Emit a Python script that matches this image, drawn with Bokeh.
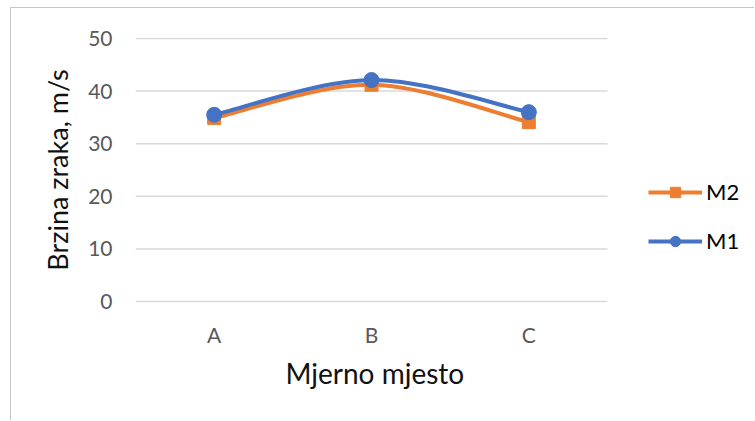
import numpy as np
from bokeh.plotting import figure
from bokeh.models import FixedTicker, Legend, LegendItem, ColumnDataSource, Range1d, Title
from bokeh.embed import file_html
from bokeh.resources import INLINE

categories = ["A", "B", "C"]
m1 = [35.5, 42.1, 36.0]
m2 = [34.9, 41.2, 34.1]
y_ticks = [0, 10, 20, 30, 40, 50]

BLUE = "#4472C4"
ORANGE = "#ED7D31"
FONT = "Lato"

n_cat = len(categories)
xs = np.arange(n_cat) + 0.5


def smooth_segments(x, y):
    pts = np.column_stack([x, y]).astype(float)
    n = len(pts)
    segs = dict(x0=[], y0=[], x1=[], y1=[], cx0=[], cy0=[], cx1=[], cy1=[])
    for i in range(n - 1):
        p0 = pts[i - 1] if i > 0 else pts[i]
        p1 = pts[i]
        p2 = pts[i + 1]
        p3 = pts[i + 2] if i + 2 < n else pts[i + 1]
        c1 = p1 + (p2 - p0) / 6.0
        c2 = p2 - (p3 - p1) / 6.0
        segs["x0"].append(p1[0]); segs["y0"].append(p1[1])
        segs["x1"].append(p2[0]); segs["y1"].append(p2[1])
        segs["cx0"].append(c1[0]); segs["cy0"].append(c1[1])
        segs["cx1"].append(c2[0]); segs["cy1"].append(c2[1])
    return ColumnDataSource(segs)


W, H = 744, 413
LEFT = 124
FRAME_W = W - LEFT
CAT_PX = 472 / n_cat          # pixel width of one category slot
p = figure(width=W, height=H, output_backend="svg", toolbar_location=None,
           x_range=Range1d(0, FRAME_W / CAT_PX), y_range=Range1d(-0.19, 50.19),
           min_border_left=LEFT, min_border_top=29, min_border_right=0,
           min_border_bottom=119)
p.styles = {"border-left": "1px solid #c4c4c4", "border-top": "1px solid #c4c4c4",
            "margin-left": "10px", "margin-top": "7px"}
p.outline_line_color = None
p.background_fill_color = "white"
p.border_fill_color = "white"

p.xgrid.visible = False
p.ygrid.visible = False
# horizontal gridlines spanning only the category area
p.segment(x0=[0] * len(y_ticks), x1=[n_cat] * len(y_ticks), y0=y_ticks, y1=y_ticks,
          line_color="#D9D9D9", line_width=1.5)

p.yaxis.ticker = FixedTicker(ticks=y_ticks)
p.xaxis.ticker = FixedTicker(ticks=list(xs))
p.xaxis.major_label_overrides = {float(x): c for x, c in zip(xs, categories)}

for ax in (p.xaxis[0], p.yaxis[0]):
    ax.axis_line_color = None
    ax.major_tick_line_color = None
    ax.minor_tick_line_color = None
    ax.major_tick_out = 0
    ax.major_tick_in = 0
    ax.major_label_text_font = FONT
    ax.major_label_text_font_size = "21px"
    ax.major_label_text_color = "#595959"
    ax.axis_label_text_font = FONT
    ax.axis_label_text_font_size = "27px"
    ax.axis_label_text_font_style = "normal"
    ax.axis_label_text_color = "#111111"

p.yaxis.axis_label = "Brzina zraka, m/s"
p.xaxis.major_label_standoff = 19
p.yaxis.major_label_standoff = 23
p.yaxis.axis_label_standoff = 11

xtitle = Title(text="Mjerno mjesto", align="left", offset=150, standoff=8,
               text_font=FONT, text_font_size="28px", text_font_style="normal",
               text_color="#111111")
p.add_layout(xtitle, "below")

# M2 (orange, squares)
s2 = smooth_segments(xs, m2)
p.bezier(x0="x0", y0="y0", x1="x1", y1="y1", cx0="cx0", cy0="cy0", cx1="cx1", cy1="cy1",
         source=s2, line_color=ORANGE, line_width=4)
p.scatter(xs, m2, marker="square", size=13, fill_color=ORANGE, line_color=ORANGE)

# M1 (blue, circles)
s1 = smooth_segments(xs, m1)
p.bezier(x0="x0", y0="y0", x1="x1", y1="y1", cx0="cx0", cy0="cy0", cx1="cx1", cy1="cy1",
         source=s1, line_color=BLUE, line_width=4)
p.scatter(xs, m1, marker="circle", size=15, fill_color=BLUE, line_color=BLUE)

# legend proxies (line + marker)
lg2 = p.line([np.nan], [np.nan], line_color=ORANGE, line_width=4)
mk2 = p.scatter([np.nan], [np.nan], marker="square", size=13, fill_color=ORANGE, line_color=ORANGE)
lg1 = p.line([np.nan], [np.nan], line_color=BLUE, line_width=4)
mk1 = p.scatter([np.nan], [np.nan], marker="circle", size=13, fill_color=BLUE, line_color=BLUE)

legend = Legend(items=[LegendItem(label="M2", renderers=[lg2, mk2]),
                       LegendItem(label="M1", renderers=[lg1, mk1])],
                location=(513, 48))
legend.padding = 0
legend.margin = 0
legend.border_line_color = None
legend.background_fill_alpha = 0
legend.glyph_width = 54
legend.glyph_height = 26
legend.label_height = 26
legend.label_standoff = 4
legend.spacing = 22
legend.label_text_font = FONT
legend.label_text_font_size = "22px"
legend.label_text_color = "#000000"
legend.label_text_baseline = "middle"
p.add_layout(legend, "center")

open("out.html", "w").write(file_html(p, INLINE))
